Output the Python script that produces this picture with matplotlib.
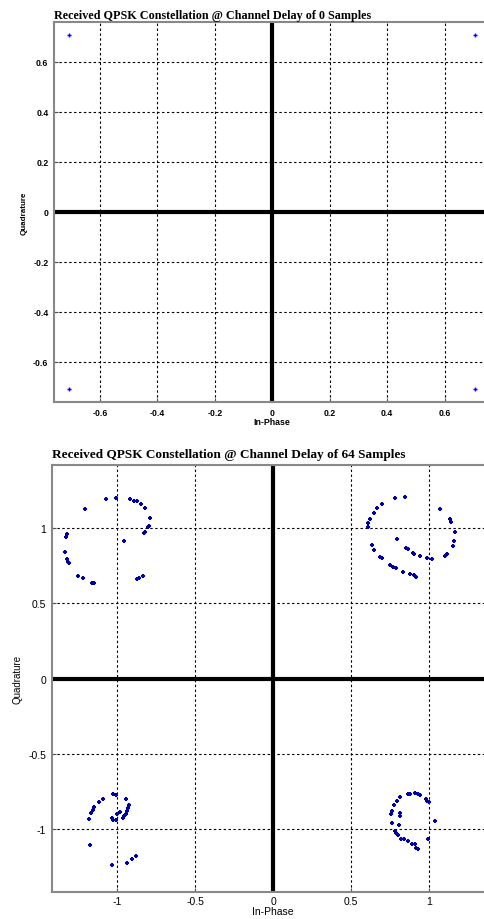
import matplotlib
matplotlib.use("Agg")
import matplotlib.pyplot as plt

# ideal constellation, delay 0
ideal_i = [-0.707, 0.707, -0.707, 0.707]
ideal_q = [0.707, 0.707, -0.707, -0.707]

# received symbols, delay 64
rx_i = [
    -1.21, -1.073, -1.006, -0.919, -0.895, -0.876, -0.846, -0.822, -0.79, -0.795,
    -0.803, -0.82, -0.831, -0.955, -1.325, -1.329, -1.335, -1.323, -1.316, -1.31,
    -1.252, -1.222, -1.162, -1.147, -0.874, -0.859, -0.833,
    0.782, 0.844, 0.697, 0.665, 0.647, 0.62, 0.609, 0.609, 1.071, 1.131,
    1.139, 1.165, 1.16, 1.154, 1.111, 1.103, 1.015, 0.987, 0.942, 0.904,
    0.893, 0.861, 0.851, 0.793, 0.63, 0.647, 0.686, 0.697, 0.748, 0.765,
    0.786, 0.831, 0.874, 0.904, 0.917,
    -1.03, -1.009, -1.09, -1.12, -1.147, -1.154, -1.169, -1.179, -0.944, -0.923,
    -0.929, -0.938, -0.944, -0.955, -0.966, -0.981, -1.004, -1.034, -1.026, -1.009,
    -1.173, -1.034, -0.94, -0.908, -0.88,
    0.861, 0.878, 0.908, 0.929, 0.942, 0.814, 0.793, 0.776, 0.979, 0.989,
    1.0, 0.761, 0.758, 0.814, 0.81, 1.038, 0.761, 0.808, 0.782, 0.79,
    0.803, 0.822, 0.84, 0.861, 0.887, 0.91, 0.915, 0.929, 0.994,
]
rx_q = [
    1.127, 1.195, 1.204, 1.193, 1.184, 1.18, 1.162, 1.138, 1.071, 1.018,
    1.007, 0.978, 0.967, 0.918, 0.96, 0.944, 0.844, 0.793, 0.778, 0.767,
    0.684, 0.667, 0.633, 0.633, 0.66, 0.671, 0.684,
    1.204, 1.211, 1.162, 1.133, 1.104, 1.062, 1.033, 1.011, 1.127, 1.062,
    1.044, 0.978, 0.918, 0.882, 0.827, 0.818, 0.793, 0.8, 0.815, 0.831,
    0.838, 0.86, 0.871, 0.929, 0.889, 0.856, 0.807, 0.8, 0.756, 0.742,
    0.733, 0.711, 0.693, 0.689, 0.678,
    -0.771, -0.773, -0.8, -0.822, -0.856, -0.871, -0.896, -0.933, -0.8, -0.844,
    -0.86, -0.882, -0.9, -0.916, -0.927, -0.889, -0.9, -0.929, -0.94, -0.944,
    -1.104, -1.238, -1.227, -1.2, -1.178,
    -0.767, -0.767, -0.76, -0.767, -0.773, -0.789, -0.816, -0.84, -0.8, -0.811,
    -0.822, -0.882, -0.904, -0.896, -0.911, -0.949, -0.96, -0.973, -1.011, -1.027,
    -1.038, -1.067, -1.067, -1.082, -1.1, -1.1, -1.127, -1.136, -1.067,
]

top_ticks = [-0.6, -0.4, -0.2, 0, 0.2, 0.4, 0.6]
top_labels = ["-0.6", "-0.4", "-0.2", "0", "0.2", "0.4", "0.6"]
bot_ticks = [-1, -0.5, 0, 0.5, 1]
bot_labels = ["-1", "-0.5", "0", "0.5", "1"]

title_top = "Received QPSK Constellation @ Channel Delay of 0 Samples"
title_bot = "Received QPSK Constellation @ Channel Delay of 64 Samples"

fig = plt.figure(figsize=(4.85, 9.2), dpi=100)
ax1 = fig.add_axes([0.1113, 0.562, 0.90, 0.413])
ax2 = fig.add_axes([0.107, 0.0293, 0.913, 0.464])

grid_ls = (0, (2.2, 2.2))


def style_axes(ax, ticks, labels, lim, bold, fs, xpad):
    ax.set_xlim(-lim[0], lim[0])
    ax.set_ylim(-lim[1], lim[1])
    ax.set_xticks(ticks)
    ax.set_yticks(ticks)
    weight = "bold" if bold else "normal"
    ax.set_xticklabels(labels, fontsize=fs, fontweight=weight, family="Liberation Sans")
    ax.set_yticklabels(labels, fontsize=fs, fontweight=weight, family="Liberation Sans")
    ax.grid(True, color="black", linestyle=grid_ls, linewidth=0.8)
    ax.set_axisbelow(True)
    ax.tick_params(direction="in", length=3, width=0.8, colors="#555555", pad=4)
    ax.tick_params(axis="x", pad=xpad)
    ax.tick_params(labelcolor="black")
    for s in ax.spines.values():
        s.set_color("#888888")
        s.set_linewidth(1.5)
    ax.axhline(0, color="black", linewidth=3.0, zorder=2)
    ax.axvline(0, color="black", linewidth=3.0, zorder=2)
    ax.set_xlabel("In-Phase", fontsize=fs, fontweight=weight, family="Liberation Sans", labelpad=0)
    ax.set_ylabel("Quadrature", fontsize=fs - 0.5, fontweight=weight, family="Liberation Sans", labelpad=4)


style_axes(ax1, top_ticks, top_labels, (0.76, 0.76), True, 6.3, 4)
ax1.plot(ideal_i, ideal_q, linestyle="none", marker="+", markersize=3,
         markeredgewidth=1.0, color="#0000ff", zorder=3)
ax1.set_title(title_top, loc="left", fontsize=8.7, fontweight="bold",
              family="Liberation Serif", pad=3)

style_axes(ax2, bot_ticks, bot_labels, (1.42, 1.42), False, 7.5, 3)
ax2.plot(rx_i, rx_q, linestyle="none", marker="+", markersize=3.5,
         markeredgewidth=1.5, color="#0000a0", zorder=3)
ax2.set_title(title_bot, loc="left", fontsize=9.5, fontweight="bold",
              family="Liberation Serif", pad=6)

fig.savefig("out.png", dpi=100)
